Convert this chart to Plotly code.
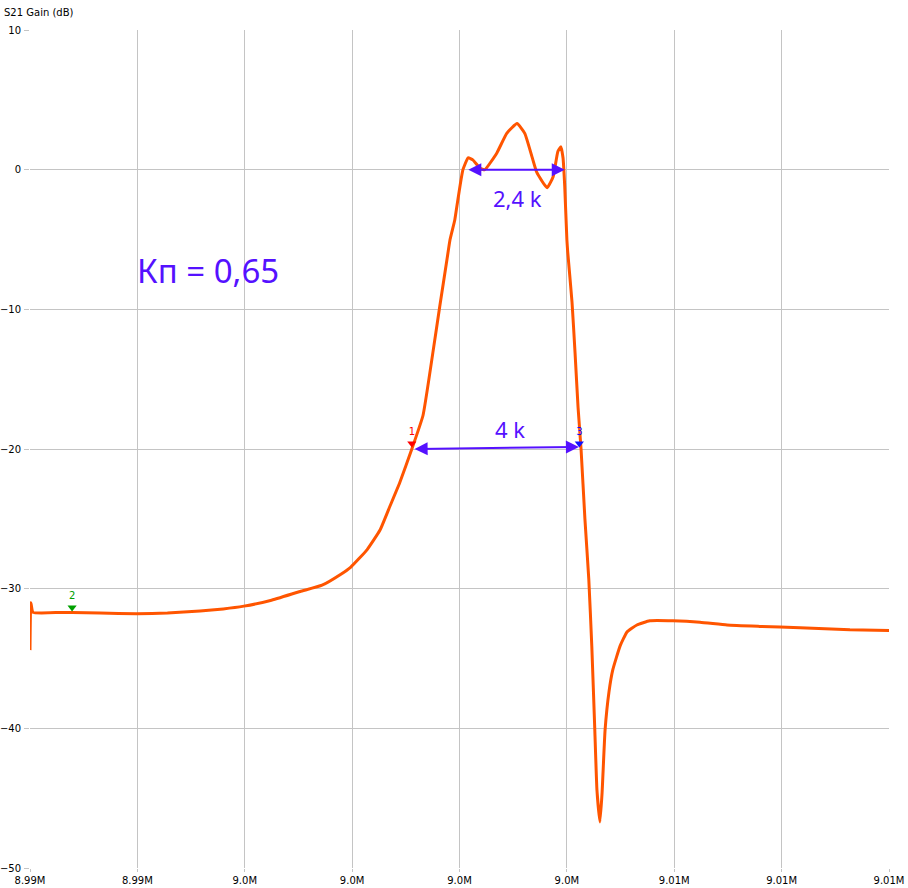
import plotly.graph_objects as go

# Frequency (MHz) and S21 gain (dB)
freq_mhz = [8.99000, 8.99002, 8.99007, 8.99070, 8.99098, 8.99163, 8.99249, 8.99320, 8.99396,
            8.99450, 8.99498, 8.99560, 8.99629, 8.99680, 8.99722, 8.99747, 8.99785, 8.99815,
            8.99838, 8.99861, 8.99889, 8.99915, 8.99938, 8.99954, 8.99971, 8.99978, 8.99989,
            8.99994, 9.00001, 9.00008, 9.00020, 9.00031, 9.00048, 9.00059, 9.00087, 9.00110,
            9.00134, 9.00152, 9.00169, 9.00180, 9.00204, 9.00218, 9.00229, 9.00236, 9.00241,
            9.00245, 9.00250, 9.00252, 9.00262, 9.00269, 9.00276, 9.00283, 9.00292, 9.00301,
            9.00308, 9.00315, 9.00320, 9.00327, 9.00332, 9.00339, 9.00348, 9.00357, 9.00374,
            9.00390, 9.00413, 9.00443, 9.00497, 9.00560, 9.00623, 9.00699, 9.00793, 9.00909,
            9.01000]
gain_db = [-34.4, -31.0, -31.7, -31.7, -31.7, -31.75, -31.8, -31.75, -31.6,
           -31.45, -31.25, -30.85, -30.2, -29.75, -29.0, -28.45, -27.2, -25.8,
           -24.1, -22.4, -20.0, -17.6, -13.1, -9.8, -6.4, -5.0, -3.6,
           -2.6, -1.2, 0.0, 0.85, 0.7, 0.1, 0.0, 1.2, 2.6,
           3.3, 2.6, 0.9, -0.2, -1.3, -0.5, 1.3, 1.65, 0.85,
           -1.2, -5.0, -5.9, -9.5, -13.1, -17.0, -20.0, -25.0, -29.3,
           -34.1, -40.1, -44.4, -46.7, -44.6, -40.1, -37.4, -35.8, -34.1,
           -33.1, -32.6, -32.3, -32.3, -32.4, -32.6, -32.7, -32.8, -32.95,
           -33.0]

# Markers
marker_labels = ["1", "2", "3"]
marker_freq = [8.99889, 8.99098, 9.00279]
marker_gain = [-19.6, -31.35, -19.6]
marker_colors = ["#FF0000", "#00A000", "#1010FF"]

# Axis ticks
x_tickvals = [8.990, 8.9925, 8.995, 8.9975, 9.000, 9.0025, 9.005, 9.0075, 9.010]
x_ticktext = ["8.99M", "8.99M", "9.0M", "9.0M", "9.0M", "9.0M", "9.01M", "9.01M", "9.01M"]
y_tickvals = [10, 0, -10, -20, -30, -40, -50]

ANN = "#5511FF"
GRID = "#C4C4C4"

fig = go.Figure()
fig.add_trace(go.Scatter(x=freq_mhz, y=gain_db, mode="lines",
                         line=dict(color="#FF5500", width=3, shape="spline", smoothing=0.4),
                         hoverinfo="skip", showlegend=False))
fig.add_trace(go.Scatter(x=marker_freq, y=marker_gain, mode="markers+text",
                         marker=dict(symbol="triangle-down", size=8, color=marker_colors),
                         text=marker_labels, textposition="top center",
                         textfont=dict(family="DejaVu Sans", size=10, color=marker_colors),
                         showlegend=False, hoverinfo="skip"))

annotations = [
    dict(x=9.00245, y=0.0, ax=9.00017, ay=0.0, xref="x", yref="y", axref="x", ayref="y",
         text="", showarrow=True, arrowhead=2, startarrowhead=2, arrowside="end+start",
         arrowsize=1.3, startarrowsize=1.3, arrowwidth=2, arrowcolor=ANN),
    dict(x=9.00134, y=-2.0, xref="x", yref="y", text="2,4 k", showarrow=False,
         font=dict(family="Noto Sans", size=22, color=ANN)),
    dict(x=9.00278, y=-19.85, ax=8.99892, ay=-20.0, xref="x", yref="y", axref="x", ayref="y",
         text="", showarrow=True, arrowhead=2, startarrowhead=2, arrowside="end+start",
         arrowsize=1.3, startarrowsize=1.3, arrowwidth=2, arrowcolor=ANN),
    dict(x=9.00118, y=-18.6, xref="x", yref="y", text="4 k", showarrow=False,
         font=dict(family="Noto Sans", size=22, color=ANN)),
    dict(x=8.99414, y=-7.2, xref="x", yref="y", text="Кп = 0,65", showarrow=False,
         font=dict(family="Noto Sans", size=33, color=ANN)),
    dict(x=0, y=1, xref="paper", yref="paper", xanchor="left", yanchor="bottom",
         xshift=-28, yshift=10, text="S21 Gain (dB)", showarrow=False,
         font=dict(family="DejaVu Sans", size=10, color="#000000")),
]

fig.update_layout(
    width=908, height=888,
    margin=dict(l=30, r=19, t=30, b=20),
    paper_bgcolor="white", plot_bgcolor="white",
    annotations=annotations,
    xaxis=dict(range=[8.990, 9.010], tickvals=x_tickvals, ticktext=x_ticktext,
               showgrid=True, gridcolor=GRID, gridwidth=1, zeroline=False,
               showline=False, ticks="outside", ticklen=3, tickcolor=GRID,
               automargin=False,
               tickfont=dict(family="DejaVu Sans", size=10, color="#000000")),
    yaxis=dict(range=[-50, 10], tickvals=y_tickvals,
               showgrid=True, gridcolor=GRID, gridwidth=1, zeroline=False,
               showline=False, ticks="outside", ticklen=5, tickcolor=GRID,
               automargin=False, ticklabelstandoff=1,
               tickfont=dict(family="DejaVu Sans", size=10, color="#000000")),
)

fig.write_html("out.html", config={"displayModeBar": False},
               post_script="document.body.style.margin='0';document.body.style.overflow='hidden';")
